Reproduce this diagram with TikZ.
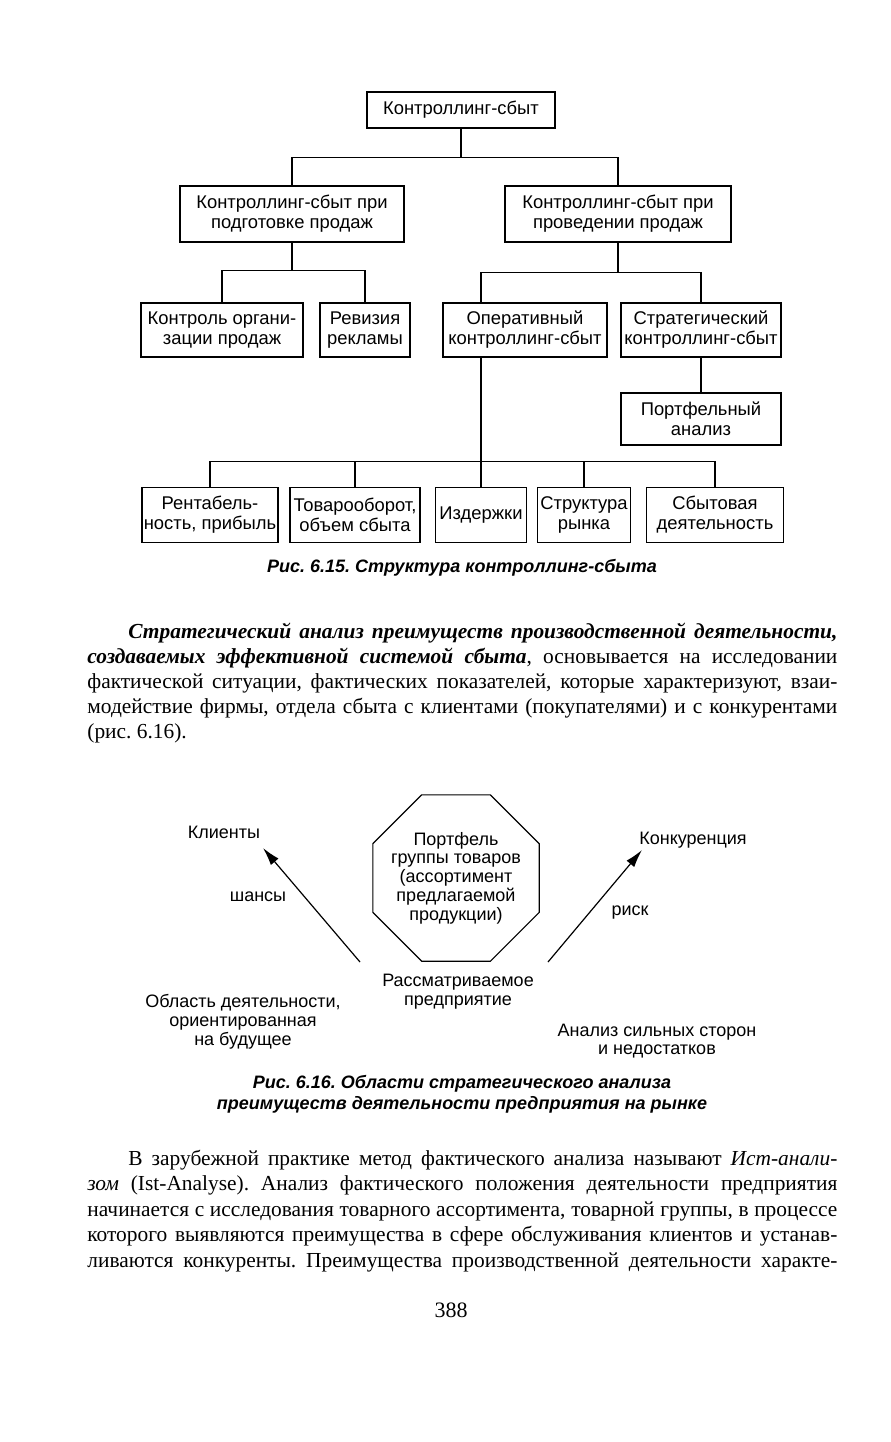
\documentclass[tikz,border=0pt]{standalone}
\usepackage{fontspec}
\setmainfont{Liberation Serif}
\setsansfont{Liberation Sans}
\usetikzlibrary{arrows.meta,shapes.geometric}

\tikzset{
  unit/.style={draw, line width=0.7pt, align=center, inner sep=1pt,
    font=\sffamily\fontsize{9.2}{10}\selectfont},
  bus/.style={line width=0.6pt},
  lbl/.style={align=center, inner sep=0pt, font=\sffamily\fontsize{9}{9.4}\selectfont},
  capt/.style={align=center, inner sep=0pt, font=\sffamily\bfseries\itshape\fontsize{9}{10.5}\selectfont},
  bodyline/.style={anchor=base west, inner sep=0pt, font=\fontsize{10.7}{12.5}\selectfont},
  pointer/.style={line width=0.6pt, -{Latex[length=9pt,width=5pt]}}
}

\begin{document}
\frenchspacing
\begin{tikzpicture}[x=0.5pt,y=-0.5pt]
\fill[white] (0,0) rectangle (890,1442);

% Fig. 6.15
\node[unit, minimum width=94pt, minimum height=18pt] (top) at (461,110) {Контроллинг-сбыт};
\node[unit, minimum width=112pt, minimum height=28pt] (prep) at (292,214) {Контроллинг-сбыт при\\подготовке продаж};
\node[unit, minimum width=113pt, minimum height=28pt] (cond) at (618,214) {Контроллинг-сбыт при\\проведении продаж};
\node[unit, minimum width=81pt, minimum height=27pt] (org) at (222,330) {Контроль органи-\\зации продаж};
\node[unit, minimum width=45pt, minimum height=27pt] (adv) at (365,330) {Ревизия\\рекламы};
\node[unit, minimum width=82pt, minimum height=27pt] (oper) at (525,330) {Оперативный\\контроллинг-сбыт};
\node[unit, minimum width=80pt, minimum height=27pt] (strat) at (701,330) {Стратегический\\контроллинг-сбыт};
\node[unit, minimum width=80pt, minimum height=26pt] (portf) at (701,419) {Портфельный\\анализ};
\node[unit, minimum width=67pt, minimum height=27.5pt] (rent) at (210,515) {Рентабель-\\ность, прибыль};
\node[unit, minimum width=65pt, minimum height=27.5pt] (tov) at (355,515) {Товарооборот,\\объем сбыта};
\node[unit, minimum width=45.5pt, minimum height=27.5pt] (izd) at (481,515) {Издержки};
\node[unit, minimum width=46.5pt, minimum height=27.5pt] (str) at (584,515) {Структура\\рынка};
\node[unit, minimum width=68.5pt, minimum height=27.5pt] (sbyt) at (715,515) {Сбытовая\\деятельность};

\draw[bus] (top.south) -- ++(0,29) coordinate (j1);
\draw[bus] (prep.north) |- (j1) -| (cond.north);
\draw[bus] (prep.south) -- ++(0,28) coordinate (j2);
\draw[bus] (org.north) |- (j2) -| (adv.north);
\draw[bus] (cond.south) -- ++(0,30) coordinate (j3);
\draw[bus] (oper.north -| izd) |- (j3) -| (strat.north);
\draw[bus] (strat.south) -- (portf.north);
\path (izd.north) ++(0,-25) coordinate (j4);
\draw[bus] (oper.south -| izd) -- (izd.north);
\draw[bus] (rent.north) |- (j4) -| (sbyt.north);
\draw[bus] (tov.north) -- (tov.north |- j4);
\draw[bus] (str.north) -- (str.north |- j4);

\node[capt] (cap1) at (462,568) {Рис. 6.15. Структура контроллинг-сбыта};

% text above Fig. 6.16
\foreach \ln [count=\i] in {
  {\hspace*{20.5pt}\textbf{\textit{Стратегический анализ преимуществ производственной деятельности,}}},
  {\textbf{\textit{создаваемых эффективной системой сбыта}}, основывается на исследовании},
  {фактической ситуации, фактических показателей, которые характеризуют, взаи-},
  {модействие фирмы, отдела сбыта с клиентами (покупателями) и с конкурентами},
  {(рис. 6.16).\hfill}}
  \node[bodyline] (pa\i) at (87,613+25*\i) {\makebox[375pt][s]{\ln}};

% Fig. 6.16
\node[draw, regular polygon, regular polygon sides=8, minimum size=90pt, inner sep=0pt, line width=0.6pt] (port) at (456,878) {};
\node[lbl] (portt) at (port.center) {Портфель\\группы товаров\\(ассортимент\\предлагаемой\\продукции)};
\node[lbl] (cli) at (224,832) {Клиенты};
\node[lbl] (comp) at (693,840) {Конкуренция};
\node[lbl] (chance) at (258,897) {шансы};
\node[lbl] (risk) at (630,913) {риск};
\node[lbl] (firm) at (458,992) {Рассматриваемое\\предприятие};
\node[lbl] (future) at (243,1022) {Область деятельности,\\ориентированная\\на будущее};
\node[lbl] (swot) at (657,1041) {Анализ сильных сторон\\и недостатков};

\coordinate (tl) at (360,962);
\coordinate (hl) at (263,848);
\coordinate (tr) at (548,962);
\coordinate (hr) at (642,850);
\draw[pointer] (tl) -- (hl);
\draw[pointer] (tr) -- (hr);

\node[capt] (cap2) at (462,1094) {Рис. 6.16. Области стратегического анализа\\преимуществ деятельности предприятия на рынке};

% text below Fig. 6.16
\foreach \ln [count=\i] in {
  {\hspace*{20.5pt}В зарубежной практике метод фактического анализа называют \textit{Ист-анали-}},
  {\textit{зом} (Ist-Analyse). Анализ фактического положения деятельности предприятия},
  {начинается с исследования товарного ассортимента, товарной группы, в процессе},
  {которого выявляются преимущества в сфере обслуживания клиентов и устанав-},
  {ливаются конкуренты. Преимущества производственной деятельности характе-}}
  \node[bodyline] (pb\i) at (87,1140+25.4*\i) {\makebox[375pt][s]{\ln}};

\node[anchor=base, inner sep=0pt, font=\fontsize{11}{12}\selectfont] (pnum) at (451,1317) {388};
\end{tikzpicture}
\end{document}
